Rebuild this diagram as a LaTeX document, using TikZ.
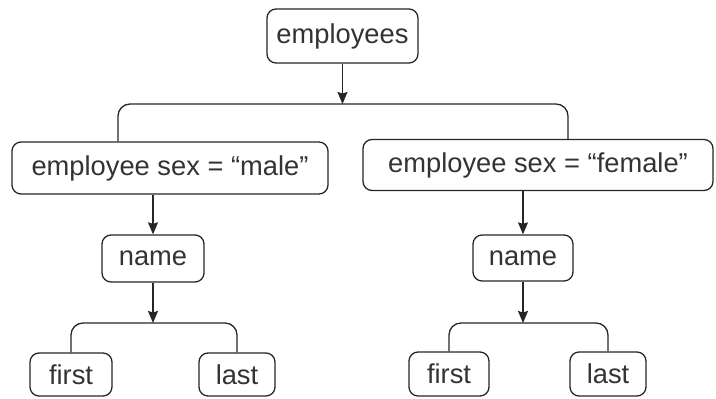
\documentclass[tikz,border=0pt]{standalone}
\usepackage{fontspec}
\setmainfont{Liberation Sans}
\usepackage{tikz}
\usetikzlibrary{arrows.meta}

\begin{document}
\begin{tikzpicture}[->,>={Stealth[length=12pt,width=10pt,inset=1.5pt]},x=1pt,y=-1pt,
        line width=1.3pt,color=black!85,
        main node/.style={rectangle,draw,rounded corners=9pt,inner sep=0pt,text=black!80,
        font=\fontsize{27.3}{30}\selectfont}]

    \useasboundingbox (0,0) rectangle (716,399);

    \node[main node,minimum width=151pt,minimum height=54pt] (1) at (342.5,36) {employees};
    \node[main node,minimum width=316pt,minimum height=52pt] (2) at (170,168) {employee sex = “male”};
    \node[main node,minimum width=350pt,minimum height=51pt] (3) at (538,165) {employee sex = “female”};
    \node[main node,minimum width=102pt,minimum height=47pt] (4) at (153,258.5) {name};
    \node[main node,minimum width=100pt,minimum height=46pt] (5) at (523,258) {name};
    \node[main node,minimum width=82pt,minimum height=43pt] (6) at (71,374.5) {first};
    \node[main node,minimum width=76pt,minimum height=43pt] (7) at (237,374.5) {last};
    \node[main node,minimum width=80pt,minimum height=44pt] (8) at (449,374) {first};
    \node[main node,minimum width=76pt,minimum height=44pt] (9) at (608,374) {last};

    % bracket joints
    \coordinate (a) at (342.5,104);
    \coordinate (b) at (153,323);
    \coordinate (c) at (523,323);

    \path[-,rounded corners=12pt]
    ([xshift=-52pt]2.north) edge[to path={|- (a) -| (\tikztotarget)}] ([xshift=30pt]3.north)
    (6.north) edge[to path={|- (b) -| (\tikztotarget)}] (7.north)
    (8.north) edge[to path={|- (c) -| (\tikztotarget)}] (9.north);

    \path
    (1) edge (a)
    (2.south -| 4) edge (4)
    (3.south -| 5) edge (5)
    (4) edge (b)
    (5) edge (c);

\end{tikzpicture}
\end{document}
